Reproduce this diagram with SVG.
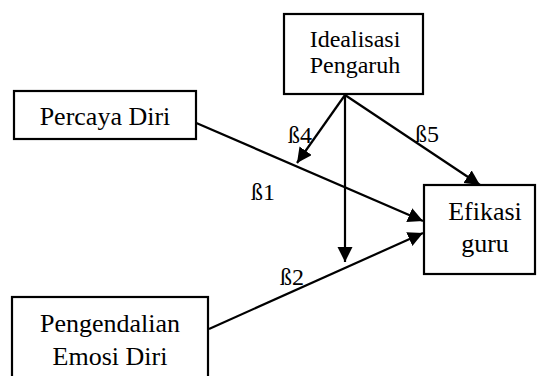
<svg xmlns="http://www.w3.org/2000/svg" width="537" height="376" viewBox="0 0 537 376">
<style>
.box{fill:#fff;stroke:#000;stroke-width:2.2}
text{font-family:'Liberation Serif','Times New Roman',Tinos,serif;fill:#000}
.t{font-size:26px;text-anchor:middle}
.s{font-size:24px}
.lbl{font-size:24px}
.c{stroke:#000;stroke-width:2.2;fill:none;marker-end:url(#ah)}
</style>
<defs>
<marker id="ah" markerUnits="userSpaceOnUse" markerWidth="16" markerHeight="16" refX="15" refY="7.5" orient="auto">
<path d="M0,0 L15,7.5 L0,15 z" fill="#000"/>
</marker>
</defs>
<rect width="537" height="376" fill="#fff"/>
<g id="connectors">
<line class="c" x1="194" y1="122" x2="423" y2="221"/>
<line class="c" x1="209" y1="329" x2="423" y2="233"/>
<line class="c" x1="345" y1="95" x2="480" y2="185"/>
<line class="c" x1="345" y1="95" x2="345" y2="262"/>
<line class="c" x1="345" y1="95" x2="297" y2="163"/>
<line x1="410" y1="227.5" x2="422" y2="227.5" stroke="#fff" stroke-width="1.5"/>
</g>
<g id="idealisasi">
<rect class="box" x="284" y="14" width="139" height="80"/>
<text class="t s" x="355" y="47" font-family="Liberation Serif, serif">Idealisasi</text>
<text class="t s" x="355" y="73" font-family="Liberation Serif, serif">Pengaruh</text>
</g>
<g id="percaya">
<rect class="box" x="14" y="91" width="182" height="48"/>
<text class="t" x="105" y="125" font-family="Liberation Serif, serif">Percaya Diri</text>
</g>
<g id="efikasi">
<rect class="box" x="424" y="185" width="111" height="89"/>
<text class="t" x="485" y="220" font-family="Liberation Serif, serif">Efikasi</text>
<text class="t" x="485" y="252" font-family="Liberation Serif, serif">guru</text>
</g>
<g id="pengendalian">
<rect class="box" x="12" y="297" width="196" height="90"/>
<text class="t" x="110" y="332" font-family="Liberation Serif, serif">Pengendalian</text>
<text class="t" x="110" y="365" font-family="Liberation Serif, serif">Emosi Diri</text>
</g>
<g id="labels">
<text class="lbl" x="288" y="143" font-family="Liberation Serif, serif">ß4</text>
<text class="lbl" x="415" y="142" font-family="Liberation Serif, serif">ß5</text>
<text class="lbl" x="251" y="200" font-family="Liberation Serif, serif">ß1</text>
<text class="lbl" x="280" y="285" font-family="Liberation Serif, serif">ß2</text>
</g>
</svg>
